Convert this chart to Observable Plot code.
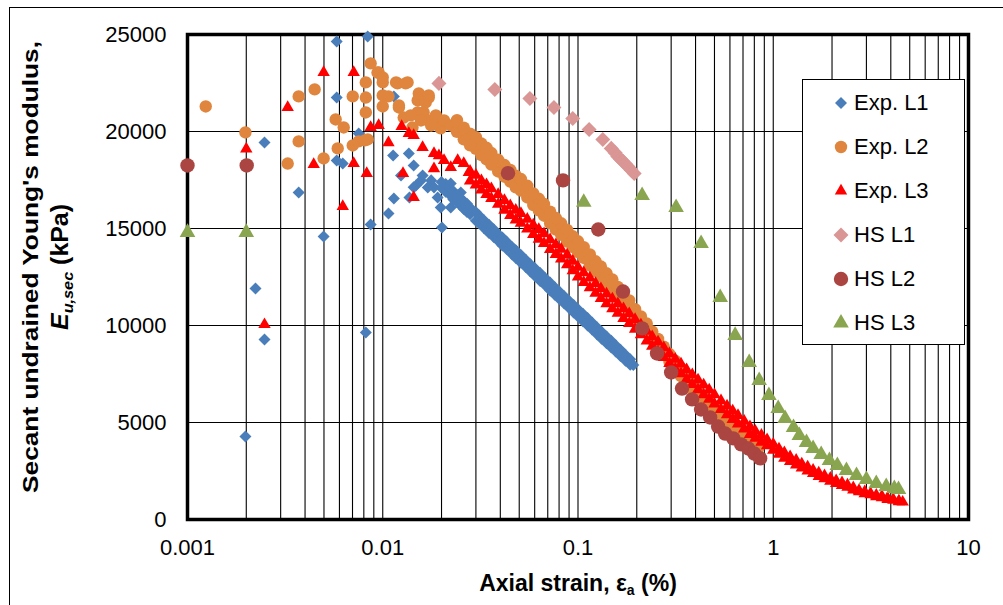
<!DOCTYPE html>
<html>
<head>
<meta charset="utf-8">
<script src="https://cdn.jsdelivr.net/npm/d3@7"></script>
<script src="https://cdn.jsdelivr.net/npm/@observablehq/plot@0.6"></script>
<style>
  html, body { margin: 0; padding: 0; background: #fff; }
  #wrap { position: relative; width: 1003px; height: 605px; overflow: hidden; font-family: "Liberation Sans", Arial, sans-serif; }
  #outline { position: absolute; left: 9px; top: 7px; width: 1100px; height: 700px; border: 1px solid #000; pointer-events: none; }
  #legend { position: absolute; left: 802px; top: 79px; width: 161px; height: 264px; border: 1px solid #000; background: #fff; }
  .row { position: absolute; left: 0; height: 30px; width: 160px; }
  .row svg { position: absolute; left: 23px; top: 0; }
  .row span { position: absolute; left: 51px; top: 2px; font-size: 22px; line-height: 26px; color: #000; }
</style>
</head>
<body>
<div id="wrap">
  <div id="chart"></div>
  <div id="outline"></div>
  <div id="legend"></div>
</div>
<script>
// Axis ticks and grid
const xTicks = [0.001, 0.01, 0.1, 1, 10];
const xTickLabels = ["0.001", "0.01", "0.1", "1", "10"];
const xGrid = [
  0.001, 0.002, 0.003, 0.004, 0.005, 0.006, 0.007, 0.008, 0.009,
  0.01, 0.02, 0.03, 0.04, 0.05, 0.06, 0.07, 0.08, 0.09,
  0.1, 0.2, 0.3, 0.4, 0.5, 0.6, 0.7, 0.8, 0.9,
  1, 2, 3, 4, 5, 6, 7, 8, 9, 10
];
const yTicks = [0, 5000, 10000, 15000, 20000, 25000];
const yTickLabels = ["0", "5000", "10000", "15000", "20000", "25000"];

// Series: [axial strain (%), secant undrained modulus (kPa)]
const seriesNames = ["Exp. L1", "Exp. L2", "Exp. L3", "HS L1", "HS L2", "HS L3"];
const seriesColors = ["#4A7EBB", "#E0853D", "#FF0000", "#D99694", "#AA4542", "#8AA54F"];

const expL1 = [
  [0.00581, 24640], [0.00837, 24900], [0.00581, 21750], [0.0114, 21800], [0.00248, 19430],
  [0.00371, 16860], [0.00498, 14590], [0.00581, 18510], [0.00624, 18350], [0.00753, 19900],
  [0.00867, 15210], [0.0107, 15770], [0.0114, 16550], [0.0113, 18760], [0.0136, 18870],
  [0.0144, 18250], [0.0157, 17480], [0.0144, 17120], [0.0124, 17730], [0.0137, 16600],
  [0.0201, 15050], [0.00223, 11910], [0.00248, 9280], [0.00198, 4280], [0.00819, 9640],
  [0.016, 17730], [0.0148, 17220], [0.0177, 17480], [0.0170, 17110], [0.0191, 16600],
  [0.0223, 17320], [0.0251, 16860], [0.0223, 16080], [0.0198, 16080], [0.0183, 17120],
  [0.020, 17090], [0.021, 16890], [0.022, 17060], [0.023, 16500], [0.024, 16720],
  [0.025, 16190], [0.026, 16420], [0.027, 15850], [0.028, 16080], [0.030, 15400],
  [0.031, 15700], [0.033, 15020], [0.035, 15190], [0.037, 14560], [0.039, 14720],
  [0.041, 14130], [0.043, 14330], [0.046, 13660], [0.048, 13880], [0.051, 13230],
  [0.054, 13390], [0.057, 12780], [0.060, 12960], [0.064, 12300], [0.068, 12440],
  [0.072, 11810], [0.076, 11970], [0.080, 11380], [0.085, 11510], [0.090, 10900],
  [0.095, 11050], [0.100, 10460], [0.106, 10600], [0.112, 10000], [0.118, 10150],
  [0.125, 9550], [0.132, 9680], [0.140, 9090], [0.148, 9210], [0.156, 8660],
  [0.165, 8750], [0.175, 8190], [0.185, 8260], [0.192, 7960],
  [0.020, 17400], [0.021, 17290], [0.022, 16740], [0.023, 16920], [0.024, 16360],
  [0.025, 16550], [0.026, 16000], [0.027, 16270], [0.028, 15740], [0.030, 15840],
  [0.031, 15280], [0.033, 15420], [0.035, 14770], [0.037, 14960], [0.039, 14360],
  [0.041, 14530], [0.043, 13950], [0.046, 14040], [0.048, 13480], [0.051, 13630],
  [0.054, 13010], [0.057, 13160], [0.060, 12560], [0.064, 12700], [0.068, 12060],
  [0.072, 12210], [0.076, 11590], [0.080, 11760], [0.085, 11130], [0.090, 11280],
  [0.095, 10670], [0.100, 10840], [0.106, 10220], [0.112, 10380], [0.118, 9790],
  [0.125, 9910], [0.132, 9320], [0.140, 9430], [0.148, 8870], [0.156, 8980],
  [0.165, 8430], [0.175, 8490], [0.185, 7980]
];

const expL2 = [
  [0.00124, 21290], [0.00198, 19950], [0.00371, 21810], [0.00448, 22170], [0.00371, 19490],
  [0.00326, 18350], [0.00498, 18610], [0.00574, 20620], [0.00631, 20210], [0.00588, 19130],
  [0.00702, 21810], [0.00819, 22530], [0.00819, 21750], [0.00819, 20980], [0.00702, 19280],
  [0.00753, 19490], [0.00837, 19590], [0.00867, 23510], [0.00953, 23040], [0.0100, 22530],
  [0.0100, 21290], [0.0107, 21810], [0.0119, 22480], [0.0134, 22530], [0.0121, 21240],
  [0.0128, 20720], [0.0151, 21600], [0.0162, 20980], [0.0183, 20570], [0.0198, 20160],
  [0.0094, 23040], [0.0100, 22790], [0.0117, 22530], [0.0131, 22480], [0.0121, 21340],
  [0.0172, 21750], [0.0151, 20980], [0.0170, 20570], [0.0187, 20830], [0.0206, 20570],
  [0.0223, 20310], [0.0139, 20830], [0.0142, 20210], [0.0157, 20570], [0.0177, 20310],
  [0.0166, 21500], [0.0153, 21960], [0.0172, 21860], [0.0100, 21860], [0.0081, 19540],
  [0.024, 20580], [0.026, 19600], [0.028, 19890], [0.030, 19110], [0.032, 19380],
  [0.034, 18560], [0.036, 18890], [0.039, 17940], [0.042, 18270], [0.045, 17420],
  [0.048, 17720], [0.051, 16950], [0.055, 17200], [0.059, 16210], [0.063, 16530],
  [0.067, 15660], [0.072, 15870], [0.077, 14940], [0.082, 15270], [0.088, 14330],
  [0.094, 14600], [0.100, 13780], [0.107, 14040], [0.115, 13100], [0.123, 13310],
  [0.131, 12520], [0.140, 12690], [0.150, 11870], [0.160, 11990], [0.171, 11160],
  [0.183, 11290], [0.196, 10380], [0.210, 10470], [0.225, 9660], [0.240, 9690],
  [0.257, 8890], [0.275, 8910], [0.294, 8130], [0.315, 8180], [0.337, 7390],
  [0.360, 7430], [0.385, 6680], [0.412, 6700], [0.440, 6030], [0.470, 6090],
  [0.500, 5475], [0.540, 5480], [0.580, 4870], [0.620, 4910], [0.660, 4370],
  [0.710, 4390], [0.760, 3880], [0.810, 3920], [0.840, 3710],
  [0.024, 19980], [0.026, 20200], [0.028, 19290], [0.030, 19710], [0.032, 18780],
  [0.034, 19160], [0.036, 18290], [0.039, 18540], [0.042, 17670], [0.045, 18020],
  [0.048, 17120], [0.051, 17550], [0.055, 16600], [0.059, 16810], [0.063, 15930],
  [0.067, 16260], [0.072, 15270], [0.077, 15540], [0.082, 14670], [0.088, 14930],
  [0.094, 14040], [0.100, 14340], [0.107, 13480], [0.115, 13660], [0.123, 12790],
  [0.131, 13040], [0.140, 12190], [0.150, 12370], [0.160, 11510], [0.171, 11640],
  [0.183, 10830], [0.196, 10840], [0.210, 10030], [0.225, 10100], [0.240, 9270],
  [0.257, 9310], [0.275, 8510], [0.294, 8530], [0.315, 7780], [0.337, 7790],
  [0.360, 7030], [0.385, 7080], [0.412, 6340], [0.440, 6390], [0.470, 5750],
  [0.500, 5815], [0.540, 5160], [0.580, 5190], [0.620, 4610], [0.660, 4670],
  [0.710, 4110], [0.760, 4140], [0.810, 3720]
];

const expL3 = [
  [0.002, 19100], [0.00326, 21240], [0.00498, 23040], [0.0071, 23040], [0.00443, 18300],
  [0.0071, 18350], [0.00828, 17840], [0.00624, 16140], [0.00867, 20210], [0.00953, 20310],
  [0.00248, 10050], [0.0107, 19430], [0.0125, 20260], [0.0127, 17840], [0.0144, 16600],
  [0.0136, 19900], [0.0144, 19800], [0.016, 19180], [0.0183, 18870], [0.0194, 18760],
  [0.0183, 18090], [0.0206, 18510], [0.0223, 18150], [0.0242, 18510], [0.026, 18350],
  [0.0276, 17890],
  [0.028, 17950], [0.030, 17250], [0.032, 17470], [0.034, 16760], [0.036, 17050],
  [0.039, 16260], [0.042, 16450], [0.045, 15680], [0.048, 15940], [0.051, 15280],
  [0.055, 15480], [0.059, 14690], [0.063, 14950], [0.067, 14230], [0.072, 14420],
  [0.077, 13670], [0.082, 13930], [0.088, 13140], [0.094, 13320], [0.100, 12510],
  [0.107, 12725], [0.115, 11950], [0.123, 12170], [0.131, 11400], [0.140, 11630],
  [0.150, 10870], [0.160, 11130], [0.171, 10370], [0.183, 10610], [0.196, 9810],
  [0.210, 10030], [0.225, 9210], [0.240, 9430], [0.257, 8650], [0.275, 8860],
  [0.294, 8050], [0.315, 8260], [0.337, 7520], [0.360, 7720], [0.385, 6960],
  [0.412, 7190], [0.440, 6440], [0.470, 6680], [0.500, 5960], [0.540, 6130],
  [0.580, 5400], [0.620, 5600], [0.660, 4930], [0.710, 5070], [0.760, 4390],
  [0.810, 4550], [0.870, 3990], [0.930, 4120], [1.00, 3570], [1.07, 3645],
  [1.14, 3160], [1.22, 3240], [1.31, 2815], [1.40, 2865], [1.50, 2505],
  [1.60, 2550], [1.71, 2220], [1.83, 2260], [1.96, 1970], [2.10, 2000],
  [2.25, 1760], [2.40, 1780], [2.57, 1520], [2.75, 1500], [2.94, 1330],
  [3.15, 1340], [3.37, 1180], [3.60, 1200], [3.85, 1030], [4.12, 1040],
  [4.40, 920], [4.60, 900],
  [0.028, 17450], [0.030, 17750], [0.032, 16990], [0.034, 17260], [0.036, 16550],
  [0.039, 16760], [0.042, 15950], [0.045, 16180], [0.048, 15440], [0.051, 15780],
  [0.055, 14980], [0.059, 15190], [0.063, 14450], [0.067, 14730], [0.072, 13920],
  [0.077, 14170], [0.082, 13430], [0.088, 13640], [0.094, 12820], [0.100, 13010],
  [0.107, 12225], [0.115, 12450], [0.123, 11670], [0.131, 11900], [0.140, 11130],
  [0.150, 11370], [0.160, 10630], [0.171, 10870], [0.183, 10110], [0.196, 10310],
  [0.210, 9530], [0.225, 9710], [0.240, 8930], [0.257, 9150], [0.275, 8360],
  [0.294, 8550], [0.315, 7760], [0.337, 8020], [0.360, 7220], [0.385, 7460],
  [0.412, 6690], [0.440, 6940], [0.470, 6200], [0.500, 6440], [0.540, 5670],
  [0.580, 5860], [0.620, 5160], [0.660, 5370], [0.710, 4670], [0.760, 4790],
  [0.810, 4190], [0.870, 4350], [0.930, 3800], [1.00, 3890], [1.07, 3365],
  [1.14, 3440], [1.22, 3000], [1.31, 3055], [1.40, 2665], [1.50, 2705],
  [1.60, 2370], [1.71, 2400], [1.83, 2100], [1.96, 2130], [2.10, 1860],
  [2.25, 1900], [2.40, 1660], [2.57, 1640], [2.75, 1440], [2.94, 1430],
  [3.15, 1280], [3.37, 1260], [3.60, 1120], [3.85, 1110], [4.12, 990],
  [4.40, 960]
];

const hsL1 = [
  [0.0194, 22480], [0.0375, 22170], [0.0567, 21700], [0.0753, 21240], [0.094, 20670],
  [0.114, 20100], [0.134, 19590], [0.148, 19130], [0.155, 18900], [0.160, 18710],
  [0.165, 18580], [0.170, 18460], [0.175, 18330], [0.180, 18200], [0.187, 18020],
  [0.194, 17840]
];

const hsL2 = [
  [0.001, 18250], [0.00201, 18250], [0.0438, 17850], [0.0838, 17480], [0.127, 14950],
  [0.170, 11750], [0.213, 9850], [0.254, 8560], [0.300, 7580], [0.341, 6750],
  [0.384, 6190], [0.427, 5670], [0.475, 5260], [0.522, 4790], [0.567, 4430],
  [0.624, 4180], [0.685, 3870], [0.745, 3660], [0.800, 3400], [0.857, 3150]
];

const hsL3 = [
  [0.001, 14800], [0.002, 14800], [0.107, 16350], [0.213, 16700], [0.318, 16080],
  [0.427, 14230], [0.535, 11440], [0.638, 9490], [0.753, 8090], [0.847, 7170],
  [0.95, 6390], [1.06, 5720], [1.15, 5210], [1.27, 4740], [1.36, 4330],
  [1.48, 3970], [1.60, 3660], [1.76, 3350], [1.94, 3040], [2.13, 2780],
  [2.37, 2530], [2.67, 2270], [3.00, 2060], [3.37, 1860], [3.79, 1700],
  [4.17, 1600], [4.38, 1550]
];

// Marker shapes (area-preserving, like d3 symbols)
const diamond = {
  draw(ctx, size) {
    const s = Math.sqrt(size / 2);
    ctx.moveTo(0, -s); ctx.lineTo(s, 0); ctx.lineTo(0, s); ctx.lineTo(-s, 0); ctx.closePath();
  }
};
const shapes = [diamond, d3.symbolCircle, d3.symbolTriangle, diamond, d3.symbolCircle, d3.symbolTriangle];
const radii = [4.8, 6.2, 4.6, 6.0, 7.2, 5.8];
const seriesData = [expL1, expL2, expL3, hsL1, hsL2, hsL3];

const font = "'Liberation Sans', Arial, sans-serif";

const chart = Plot.plot({
  width: 1003,
  height: 605,
  marginLeft: 187,
  marginRight: 35,
  marginTop: 34,
  marginBottom: 86,
  style: { fontFamily: font, fontSize: "22px", color: "#000", background: "transparent", overflow: "visible" },
  x: { type: "log", domain: [0.001, 10] },
  y: { domain: [0, 25000] },
  marks: [
    Plot.ruleX(xGrid, { stroke: "#000", strokeWidth: 1.1 }),
    Plot.ruleY(yTicks, { stroke: "#000", strokeWidth: 1.1 }),
    Plot.frame({ stroke: "#000", strokeWidth: 3.5 }),
    Plot.axisX(xTicks, {
      tickSize: 0, tickPadding: 20, label: null,
      tickFormat: d => xTickLabels[xTicks.indexOf(d)]
    }),
    Plot.axisY(yTicks, {
      tickSize: 0, tickPadding: 21, label: null,
      tickFormat: d => yTickLabels[yTicks.indexOf(d)]
    }),
    ...seriesData.map((data, i) => Plot.dot(data, {
      x: d => d[0], y: d => d[1],
      symbol: shapes[i], r: radii[i],
      fill: seriesColors[i], stroke: "none"
    }))
  ]
});
document.getElementById("chart").appendChild(chart);

// Axis titles with subscripts
const svg = d3.select(chart);
const xt = svg.append("text")
  .attr("x", 578).attr("y", 591)
  .attr("text-anchor", "middle")
  .attr("font-family", font).attr("font-size", 23).attr("font-weight", "bold").attr("fill", "#000");
xt.append("tspan").text("Axial strain, ε");
xt.append("tspan").attr("font-size", 14).attr("dy", 4).text("a");
xt.append("tspan").attr("dy", -4).text(" (%)");

// Two-line y title
const yt = svg.append("g").attr("transform", "translate(0,267) rotate(-90)")
  .attr("font-family", font).attr("font-size", 22).attr("font-weight", "bold").attr("fill", "#000");
yt.append("text").attr("x", 0).attr("y", 38).attr("text-anchor", "middle")
  .attr("textLength", 452).attr("lengthAdjust", "spacingAndGlyphs")
  .text("Secant undrained Young's modulus,");
const l2 = yt.append("text").attr("x", 0).attr("y", 68).attr("text-anchor", "middle")
  .attr("font-size", 23).attr("textLength", 126).attr("lengthAdjust", "spacingAndGlyphs");
l2.append("tspan").attr("font-style", "italic").text("E");
l2.append("tspan").attr("font-style", "italic").attr("font-size", 15).attr("dy", 5).text("u,sec");
l2.append("tspan").attr("dy", -5).text(" (kPa)");

// Legend
const legend = document.getElementById("legend");
const rowTops = [23, 67, 111, 155, 199, 243];
seriesNames.forEach((name, i) => {
  const row = document.createElement("div");
  row.className = "row";
  row.style.top = (rowTops[i] - 15) + "px";
  const sz = 30;
  const s = d3.create("svg").attr("width", sz).attr("height", sz);
  s.append("path")
    .attr("transform", `translate(${sz / 2},${sz / 2})`)
    .attr("d", d3.symbol(shapes[i], Math.PI * radii[i] * radii[i])())
    .attr("fill", seriesColors[i]);
  row.appendChild(s.node());
  const label = document.createElement("span");
  label.textContent = name;
  row.appendChild(label);
  legend.appendChild(row);
});
</script>
</body>
</html>
